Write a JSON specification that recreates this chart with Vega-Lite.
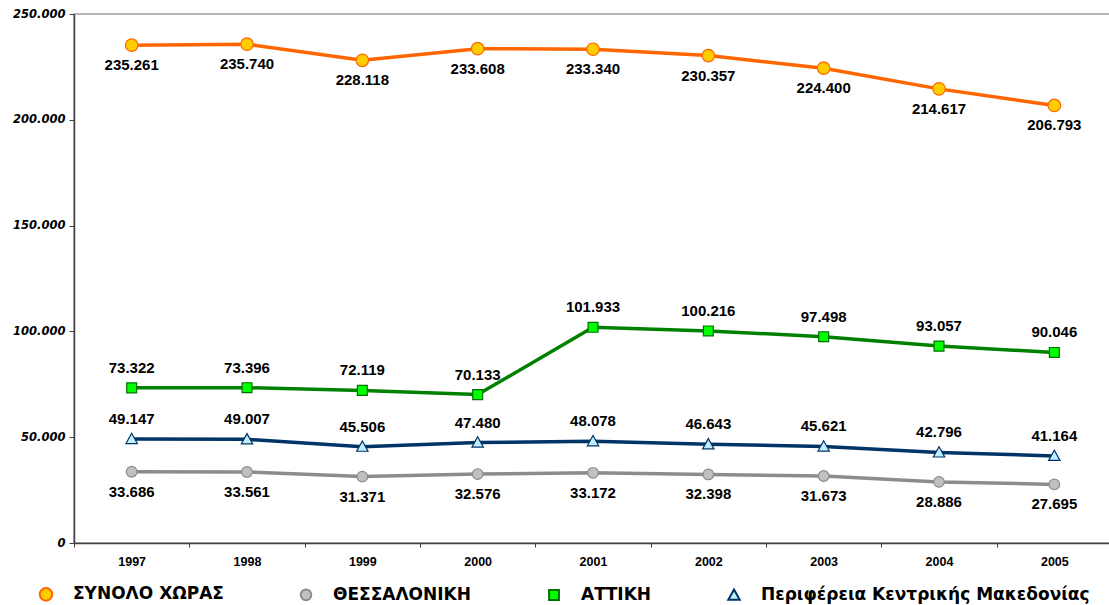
{
  "$schema": "https://vega.github.io/schema/vega-lite/v6.json",
  "description": "Series 1997-2005: ΣΥΝΟΛΟ ΧΩΡΑΣ, ΘΕΣΣΑΛΟΝΙΚΗ, ΑΤΤΙΚΗ, Περιφέρεια Κεντρικής Μακεδονίας",
  "autosize": {"type": "none"},
  "padding": {"left": 74, "top": 14, "right": 0, "bottom": 62},
  "width": 1038,
  "height": 529,
  "data": {
    "values": [
      {"year": "1997", "series": "ΣΥΝΟΛΟ ΧΩΡΑΣ", "value": 235261},
      {"year": "1998", "series": "ΣΥΝΟΛΟ ΧΩΡΑΣ", "value": 235740},
      {"year": "1999", "series": "ΣΥΝΟΛΟ ΧΩΡΑΣ", "value": 228118},
      {"year": "2000", "series": "ΣΥΝΟΛΟ ΧΩΡΑΣ", "value": 233608},
      {"year": "2001", "series": "ΣΥΝΟΛΟ ΧΩΡΑΣ", "value": 233340},
      {"year": "2002", "series": "ΣΥΝΟΛΟ ΧΩΡΑΣ", "value": 230357},
      {"year": "2003", "series": "ΣΥΝΟΛΟ ΧΩΡΑΣ", "value": 224400},
      {"year": "2004", "series": "ΣΥΝΟΛΟ ΧΩΡΑΣ", "value": 214617},
      {"year": "2005", "series": "ΣΥΝΟΛΟ ΧΩΡΑΣ", "value": 206793},
      {"year": "1997", "series": "ΘΕΣΣΑΛΟΝΙΚΗ", "value": 33686},
      {"year": "1998", "series": "ΘΕΣΣΑΛΟΝΙΚΗ", "value": 33561},
      {"year": "1999", "series": "ΘΕΣΣΑΛΟΝΙΚΗ", "value": 31371},
      {"year": "2000", "series": "ΘΕΣΣΑΛΟΝΙΚΗ", "value": 32576},
      {"year": "2001", "series": "ΘΕΣΣΑΛΟΝΙΚΗ", "value": 33172},
      {"year": "2002", "series": "ΘΕΣΣΑΛΟΝΙΚΗ", "value": 32398},
      {"year": "2003", "series": "ΘΕΣΣΑΛΟΝΙΚΗ", "value": 31673},
      {"year": "2004", "series": "ΘΕΣΣΑΛΟΝΙΚΗ", "value": 28886},
      {"year": "2005", "series": "ΘΕΣΣΑΛΟΝΙΚΗ", "value": 27695},
      {"year": "1997", "series": "ΑΤΤΙΚΗ", "value": 73322},
      {"year": "1998", "series": "ΑΤΤΙΚΗ", "value": 73396},
      {"year": "1999", "series": "ΑΤΤΙΚΗ", "value": 72119},
      {"year": "2000", "series": "ΑΤΤΙΚΗ", "value": 70133},
      {"year": "2001", "series": "ΑΤΤΙΚΗ", "value": 101933},
      {"year": "2002", "series": "ΑΤΤΙΚΗ", "value": 100216},
      {"year": "2003", "series": "ΑΤΤΙΚΗ", "value": 97498},
      {"year": "2004", "series": "ΑΤΤΙΚΗ", "value": 93057},
      {"year": "2005", "series": "ΑΤΤΙΚΗ", "value": 90046},
      {"year": "1997", "series": "Περιφέρεια Κεντρικής Μακεδονίας", "value": 49147},
      {"year": "1998", "series": "Περιφέρεια Κεντρικής Μακεδονίας", "value": 49007},
      {"year": "1999", "series": "Περιφέρεια Κεντρικής Μακεδονίας", "value": 45506},
      {"year": "2000", "series": "Περιφέρεια Κεντρικής Μακεδονίας", "value": 47480},
      {"year": "2001", "series": "Περιφέρεια Κεντρικής Μακεδονίας", "value": 48078},
      {"year": "2002", "series": "Περιφέρεια Κεντρικής Μακεδονίας", "value": 46643},
      {"year": "2003", "series": "Περιφέρεια Κεντρικής Μακεδονίας", "value": 45621},
      {"year": "2004", "series": "Περιφέρεια Κεντρικής Μακεδονίας", "value": 42796},
      {"year": "2005", "series": "Περιφέρεια Κεντρικής Μακεδονίας", "value": 41164}
    ]
  },
  "encoding": {
    "x": {
      "field": "year",
      "type": "ordinal",
      "title": null,
      "scale": {"type": "band", "paddingInner": 0, "paddingOuter": 0},
      "axis": {
        "labelAngle": 0,
        "tickBand": "extent",
        "domainColor": "#404040",
        "domainWidth": 1.5,
        "tickColor": "#404040",
        "tickSize": 4,
        "labelPadding": 8,
        "labelFont": "Liberation Sans",
        "labelFontWeight": "bold",
        "labelFontSize": 12.5,
        "labelColor": "black"
      }
    },
    "y": {
      "field": "value",
      "type": "quantitative",
      "title": null,
      "scale": {"domain": [0, 250000], "nice": false},
      "axis": {
        "values": [0, 50000, 100000, 150000, 200000, 250000],
        "format": ",d",
        "grid": false,
        "domainColor": "#404040",
        "domainWidth": 1.5,
        "tickColor": "#404040",
        "tickSize": 5,
        "labelPadding": 4,
        "labelFont": "DejaVu Sans",
        "labelFontWeight": "bold",
        "labelFontStyle": "italic",
        "labelFontSize": 11.5,
        "labelColor": "black"
      }
    }
  },
  "layer": [
    {
      "mark": {"type": "line", "strokeWidth": 3.5},
      "encoding": {
        "color": {
          "field": "series",
          "type": "nominal",
          "sort": ["ΣΥΝΟΛΟ ΧΩΡΑΣ", "ΘΕΣΣΑΛΟΝΙΚΗ", "ΑΤΤΙΚΗ", "Περιφέρεια Κεντρικής Μακεδονίας"],
          "scale": {"range": ["#FF6600", "#8C8C8C", "#008000", "#003366"]},
          "legend": null
        }
      }
    },
    {
      "mark": {"type": "point", "filled": true, "opacity": 1, "size": 1444, "strokeWidth": 1.2},
      "encoding": {
        "fill": {
          "field": "series",
          "type": "nominal",
          "scale": {
            "domain": ["ΣΥΝΟΛΟ ΧΩΡΑΣ", "ΘΕΣΣΑΛΟΝΙΚΗ", "ΑΤΤΙΚΗ", "Περιφέρεια Κεντρικής Μακεδονίας"],
            "range": ["#FFCC00", "#C0C0C0", "#00FF00", "#BFEFFF"]
          },
          "legend": {
            "title": null,
            "orient": "none",
            "legendX": -48,
            "legendY": 560,
            "direction": "horizontal",
            "columns": 4,
            "columnPadding": 62,
            "symbolSize": 1444,
            "symbolStrokeWidth": 2,
            "labelOffset": 7,
            "labelFont": "DejaVu Sans",
            "labelFontWeight": "bold",
            "labelFontSize": 17,
            "labelColor": "black",
            "labelLimit": 400
          }
        },
        "stroke": {
          "field": "series",
          "type": "nominal",
          "scale": {
            "domain": ["ΣΥΝΟΛΟ ΧΩΡΑΣ", "ΘΕΣΣΑΛΟΝΙΚΗ", "ΑΤΤΙΚΗ", "Περιφέρεια Κεντρικής Μακεδονίας"],
            "range": ["#FF6600", "#8C8C8C", "#007000", "#003366"]
          }
        },
        "shape": {
          "field": "series",
          "type": "nominal",
          "scale": {
            "domain": ["ΣΥΝΟΛΟ ΧΩΡΑΣ", "ΘΕΣΣΑΛΟΝΙΚΗ", "ΑΤΤΙΚΗ", "Περιφέρεια Κεντρικής Μακεδονίας"],
            "range": [
              "M-0.33,0A0.33,0.33,0,1,0,0.33,0A0.33,0.33,0,1,0,-0.33,0Z",
              "M-0.28,0A0.28,0.28,0,1,0,0.28,0A0.28,0.28,0,1,0,-0.28,0Z",
              "M-0.26,-0.26H0.26V0.26H-0.26Z",
              "M0,-0.3L0.3,0.24H-0.3Z"
            ]
          }
        }
      }
    },
    {
      "transform": [{"filter": "datum.series === 'ΣΥΝΟΛΟ ΧΩΡΑΣ' || datum.series === 'ΘΕΣΣΑΛΟΝΙΚΗ'"}],
      "mark": {"type": "text", "dy": 20, "font": "Liberation Sans", "fontWeight": "bold", "fontSize": 15, "color": "black", "baseline": "middle"},
      "encoding": {"text": {"field": "value", "type": "quantitative", "format": ",d"}}
    },
    {
      "transform": [{"filter": "datum.series === 'ΑΤΤΙΚΗ' || datum.series === 'Περιφέρεια Κεντρικής Μακεδονίας'"}],
      "mark": {"type": "text", "dy": -20, "font": "Liberation Sans", "fontWeight": "bold", "fontSize": 15, "color": "black", "baseline": "middle"},
      "encoding": {"text": {"field": "value", "type": "quantitative", "format": ",d"}}
    }
  ],
  "config": {
    "locale": {"number": {"decimal": ",", "thousands": ".", "grouping": [3], "currency": ["", " €"]}},
    "view": {"stroke": "#A0A0A0", "strokeWidth": 1.5},
    "background": "white"
  }
}
